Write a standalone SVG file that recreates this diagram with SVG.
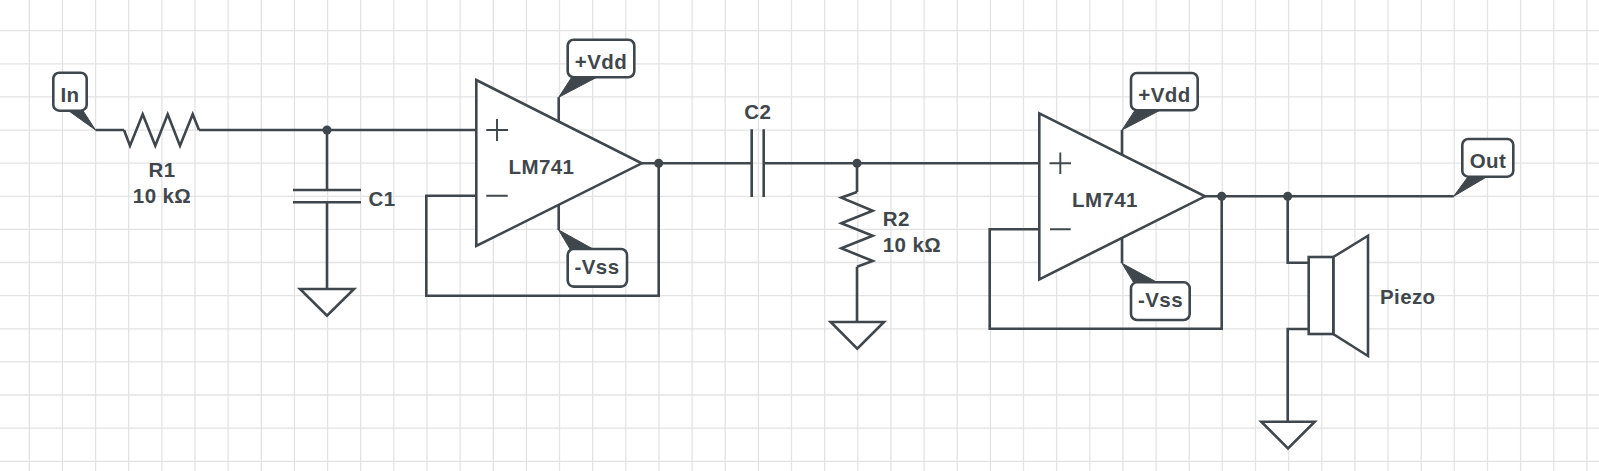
<svg xmlns="http://www.w3.org/2000/svg" width="1599" height="471" viewBox="0 0 1599 471">
<defs>
<style>
.grid{stroke:#e3e3e3;stroke-width:1.3;fill:none}
.w{stroke:#3f474c;stroke-width:2.6;fill:none;stroke-linejoin:miter}
.s{stroke:#3f474c;stroke-width:2.6;fill:#fff;stroke-linejoin:miter}
.p{fill:#3f474c;stroke:#3f474c;stroke-width:1;stroke-linejoin:round}
.d{fill:#3f474c}
.box{fill:#fff;stroke:#3f474c;stroke-width:2.6}
.thin{stroke:#3f474c;stroke-width:1.9;fill:none}
text{font-family:"Liberation Sans",Arial,sans-serif;font-size:20.5px;font-weight:bold;letter-spacing:.4px;fill:#3f474c}
.m{text-anchor:middle}
</style>
<path id="pg" class="grid" d="M29.3 0V471M62.4 0V471M95.6 0V471M128.7 0V471M161.9 0V471M195 0V471M228.1 0V471M261.3 0V471M294.4 0V471M327.6 0V471M360.7 0V471M393.8 0V471M427 0V471M460.1 0V471M493.3 0V471M526.4 0V471M559.5 0V471M592.7 0V471M625.8 0V471M659 0V471M692.1 0V471M725.2 0V471M758.4 0V471M791.5 0V471M824.7 0V471M857.8 0V471M890.9 0V471M924.1 0V471M957.2 0V471M990.4 0V471M1023.5 0V471M1056.6 0V471M1089.8 0V471M1122.9 0V471M1156.1 0V471M1189.2 0V471M1222.3 0V471M1255.5 0V471M1288.6 0V471M1321.8 0V471M1354.9 0V471M1388 0V471M1421.2 0V471M1454.3 0V471M1487.5 0V471M1520.6 0V471M1553.7 0V471M1586.9 0V471M0 30.7H1599M0 63.8H1599M0 96.9H1599M0 130.1H1599M0 163.2H1599M0 196.3H1599M0 229.4H1599M0 262.5H1599M0 295.7H1599M0 328.8H1599M0 361.9H1599M0 395H1599M0 428.1H1599M0 461.3H1599"/>
</defs>
<rect width="1599" height="471" fill="#fff"/>
<use href="#pg"/>
<g id="connectors">
<path class="w" d="M95.5 130H124M199 130H476.3"/>
<path class="w" d="M327 130V190M327 202.3V289"/>
<path class="w" d="M476.3 195.7H426.3V295.7H658.7V163.3"/>
<path class="w" d="M641.7 163.3H751.7M763.7 163.3H1039.3"/>
<path class="w" d="M857 163.3V192M857 266.7V322"/>
<path class="w" d="M1039.3 229.3H989.7V328.7H1221.7V196.3"/>
<path class="w" d="M1205 196.3H1453.7"/>
<path class="w" d="M1287.7 196.3V262.7H1308.7M1308.7 329H1287.7V421.7"/>
<path class="w" d="M558.7 97.3V125M558.7 204V230"/>
<path class="w" d="M1122 130V158M1122 238V263.3"/>
<circle class="d" cx="327" cy="130" r="4.5"/>
<circle class="d" cx="658.7" cy="163.3" r="4.5"/>
<circle class="d" cx="857" cy="163.3" r="4.5"/>
<circle class="d" cx="1221.7" cy="196.3" r="4.5"/>
<circle class="d" cx="1287.7" cy="196.3" r="4.5"/>
</g>
<g id="in">
<polygon class="p" points="95.5,130 68.5,110.7 83,110.7"/>
<rect class="box" x="53.3" y="72.7" width="33.4" height="38" rx="6"/>
<text class="m" x="70" y="102">In</text>
</g>
<g id="r1">
<polyline class="w" points="124,130 130,145.7 142.7,114.3 155.3,145.7 167.7,114.3 180,145.7 192.7,114.3 199,130"/>
<text class="m" x="162" y="176.7">R1</text>
<text class="m" x="162" y="202.7">10 kΩ</text>
</g>
<g id="c1">
<path class="w" d="M293 190H361M293 202.3H361"/>
<text x="368.5" y="205.7">C1</text>
</g>
<g id="gnd1"><polygon class="s" points="300,289 354,289 327,315.7"/></g>
<g id="opamp1">
<polygon class="s" points="476.3,80 641.7,163.3 476.3,246"/>
<path class="thin" d="M486.3 130H508M497 119V141M486.3 195.7H507.7"/>
<text class="m" x="541.5" y="173.5">LM741</text>
</g>
<g id="vdd1">
<polygon class="p" points="558.7,97.3 571.7,77.3 596.7,77.3"/>
<rect class="box" x="567.7" y="39.7" width="66.6" height="37.6" rx="6"/>
<text class="m" x="601" y="69">+Vdd</text>
</g>
<g id="vss1">
<polygon class="p" points="558.7,230 570,249 593,249"/>
<rect class="box" x="567.7" y="249" width="59.3" height="37.6" rx="6"/>
<text class="m" x="597" y="274">-Vss</text>
</g>
<g id="c2">
<path class="w" d="M751.7 129.3V197M763.7 129.3V197"/>
<text class="m" x="757.7" y="119">C2</text>
</g>
<g id="r2">
<polyline class="w" points="857,192 841.3,197.7 872.7,210.7 841.3,223.3 872.7,235.7 841.3,248.3 872.7,261 857,266.7"/>
<text x="882.7" y="226">R2</text>
<text x="882.7" y="252">10 kΩ</text>
</g>
<g id="gnd2"><polygon class="s" points="830.7,322 884,322 857.3,348.7"/></g>
<g id="opamp2">
<polygon class="s" points="1039.3,113.3 1205,196.3 1039.3,279.3"/>
<path class="thin" d="M1049.5 163.3H1071M1060.3 152.5V174M1050 229.3H1070.7"/>
<text class="m" x="1105" y="206.5">LM741</text>
</g>
<g id="vdd2">
<polygon class="p" points="1122,130 1135,110.3 1160,110.3"/>
<rect class="box" x="1131" y="73" width="66.7" height="37.3" rx="6"/>
<text class="m" x="1164.5" y="102">+Vdd</text>
</g>
<g id="vss2">
<polygon class="p" points="1122,263.3 1133.5,282.3 1157,282.3"/>
<rect class="box" x="1131" y="282.3" width="58.7" height="37.7" rx="6"/>
<text class="m" x="1160.5" y="307">-Vss</text>
</g>
<g id="out">
<polygon class="p" points="1453.7,196.3 1468,176.7 1487,176.7"/>
<rect class="box" x="1462.3" y="139" width="51" height="37.7" rx="6"/>
<text class="m" x="1488" y="168">Out</text>
</g>
<g id="piezo">
<polygon class="s" points="1333.3,257 1368,235.7 1368,356 1333.3,334"/>
<rect class="s" x="1308.7" y="257" width="24.6" height="77"/>
<text x="1380" y="304.3">Piezo</text>
</g>
<g id="gnd3"><polygon class="s" points="1261.3,421.7 1314.7,421.7 1288,448.3"/></g>
</svg>
